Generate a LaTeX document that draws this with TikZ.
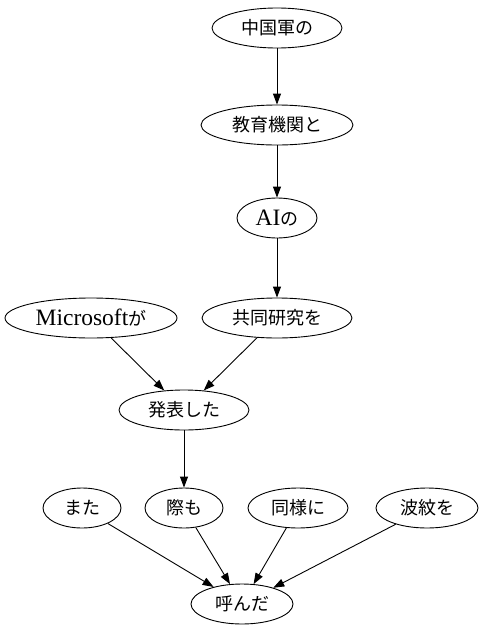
\documentclass[tikz,border=0pt]{standalone}
\usepackage{fontspec}
\newfontfamily\cjk{Noto Sans CJK JP}
\newfontfamily\serifl{Liberation Serif}
\newcommand\latn[1]{{\serifl\fontsize{23.5}{25}\selectfont #1}}
\usetikzlibrary{shapes.geometric,arrows.meta}
\begin{document}
\begin{tikzpicture}[x=1pt,y=1pt,
  nd/.style={ellipse,draw,line width=0.9pt,inner sep=0pt,minimum height=40pt,font=\fontsize{18}{20}\selectfont},
  arr/.style={line width=0.9pt,-{Triangle[length=11pt,width=8pt]}}]
\useasboundingbox (0,0) rectangle (482,-635);
\node[nd,minimum width=130pt] (n1) at (277,-28) {\cjk 中国軍の};
\node[nd,minimum width=152pt] (n2) at (277,-125) {\cjk 教育機関と};
\node[nd,minimum width=80pt] (n3) at (277,-218) {\latn{AI}\cjk の};
\node[nd,minimum width=172pt] (n4) at (91,-318) {\latn{Microsoft}\cjk が};
\node[nd,minimum width=150pt] (n5) at (277,-318) {\cjk 共同研究を};
\node[nd,minimum width=130pt] (n6) at (184,-410) {\cjk 発表した};
\node[nd,minimum width=78pt] (n7) at (82,-508) {\cjk また};
\node[nd,minimum width=78pt] (n8) at (184,-508) {\cjk 際も};
\node[nd,minimum width=100pt] (n9) at (298,-508) {\cjk 同様に};
\node[nd,minimum width=102pt] (n10) at (427,-508) {\cjk 波紋を};
\node[nd,minimum width=102pt] (n11) at (242,-604) {\cjk 呼んだ};
\draw[arr] (n1) -- (n2);
\draw[arr] (n2) -- (n3);
\draw[arr] (n3) -- (n5);
\draw[arr] (n4) -- (n6);
\draw[arr] (n5) -- (n6);
\draw[arr] (n6) -- (n8);
\draw[arr] (n7) -- (n11);
\draw[arr] (n8) -- (n11);
\draw[arr] (n9) -- (n11);
\draw[arr] (n10) -- (n11);
\end{tikzpicture}
\end{document}
